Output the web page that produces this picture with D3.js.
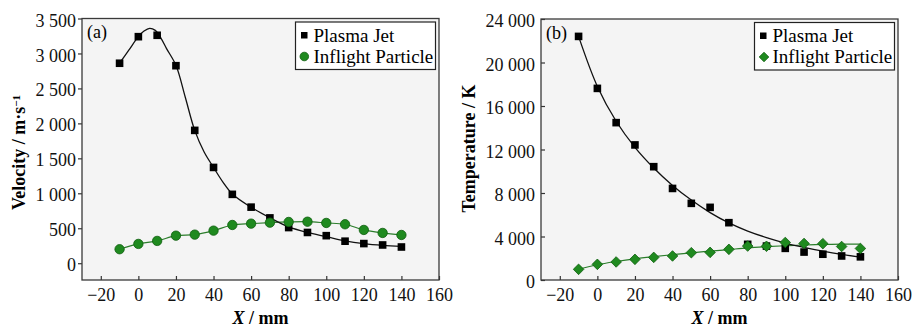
<!DOCTYPE html>
<html>
<head>
<meta charset="utf-8">
<script src="https://cdn.jsdelivr.net/npm/d3@7"></script>
<style>
  body { margin: 0; background: #fff; }
  text { font-family: "Liberation Serif", "Times New Roman", serif; }
</style>
</head>
<body>
<svg id="mainSvg" width="913" height="326"></svg>
<script>
// measured positions along the jet axis (mm)
var xPos = [-10, 0, 10, 20, 30, 40, 50, 60, 70, 80, 90, 100, 110, 120, 130, 140];

// (a) velocity, m/s
var velJet      = [2860, 3240, 3260, 2825, 1900, 1370, 985, 802, 648, 510, 440, 394, 315, 281, 261, 232];
var velParticle = [200, 276, 319, 394, 409, 466, 547, 566, 580, 590, 594, 576, 557, 476, 433, 404];
// fitted curve of the jet velocity
var velFitX   = [-10, -5, 0, 3, 6, 9, 12, 15, 20, 25, 30, 35, 40, 45, 50, 60, 70, 80, 90, 100, 110, 120, 130, 140];
var velFitJet = [2860, 3050, 3240, 3320, 3360, 3330, 3220, 3070, 2830, 2370, 1900, 1590, 1370, 1160, 990, 800, 650, 520, 440, 380, 320, 280, 255, 240];

// (b) temperature, K
var tempJet      = [22400, 17620, 14470, 12420, 10420, 8420, 7050, 6680, 5270, 3280, 3120, 2910, 2570, 2370, 2210, 2130];
var tempParticle = [980, 1440, 1660, 1900, 2080, 2210, 2510, 2540, 2820, 3120, 3100, 3450, 3360, 3340, 3080, 2900];
var tempFitJet      = [22400, 17800, 14600, 12200, 10300, 8700, 7350, 6200, 5250, 4500, 3900, 3400, 3000, 2650, 2350, 2100];
var tempFitParticle = [980, 1400, 1700, 1950, 2150, 2330, 2500, 2650, 2800, 2950, 3060, 3150, 3220, 3270, 3290, 3300];

var xTicks    = [-20, 0, 20, 40, 60, 80, 100, 120, 140, 160];
var velTicks  = [0, 500, 1000, 1500, 2000, 2500, 3000, 3500];
var tempTicks = [0, 4000, 8000, 12000, 16000, 20000, 24000];
var legendLabels = ["Plasma Jet", "Inflight Particle"];

var green = "#1f8a1f", greenDark = "#0f5e0f";
var fmt = function(d) { return d3.format(",")(d).replace(/,/g, " "); };

var svg = d3.select("#mainSvg");

function drawPanel(o) {
  var width = o.right - o.left,
      height = o.bottom - o.top;

  var x = d3.scaleLinear().domain([-30, 160]).range([0, width]);
  var y = d3.scaleLinear().domain(o.yDomain).range([height, 0]);

  var g = svg.append("g").attr("transform", "translate(" + o.left + "," + o.top + ")");

  // plot background
  g.append("rect")
    .attr("width", width).attr("height", height)
    .attr("fill", "#f4f4f4");

  // x axis, ticks pointing in
  var xAxis = g.append("g")
    .attr("transform", "translate(0," + height + ")")
    .call(d3.axisBottom(x).tickValues(xTicks).tickSize(-4).tickPadding(8).tickFormat(d3.format("")));
  xAxis.select(".domain").remove();

  // y axis
  var yAxis = g.append("g")
    .call(d3.axisLeft(y).tickValues(o.yTicks).tickSize(o.yTickSize).tickPadding(o.yTickPad).tickFormat(fmt));
  yAxis.select(".domain").remove();
  yAxis.selectAll("text").attr("dy", "0.42em");

  g.selectAll(".tick line").attr("stroke", "#333").attr("stroke-width", 1.2);
  g.selectAll(".tick text")
    .style("font-family", "'Liberation Serif', serif")
    .style("font-size", "18px")
    .attr("fill", "#111");

  // frame
  g.append("rect")
    .attr("width", width).attr("height", height)
    .attr("fill", "none").attr("stroke", "#3a3a3a").attr("stroke-width", 1.3);

  var line = d3.line()
    .x(function(d) { return x(d[0]); })
    .y(function(d) { return y(d[1]); })
    .curve(d3.curveCatmullRom);

  // particle line
  g.append("path")
    .datum(d3.zip(o.particleFitX, o.particleFit))
    .attr("fill", "none").attr("stroke", "#2b7d2b").attr("stroke-width", 1.2)
    .attr("d", line);

  // jet line
  g.append("path")
    .datum(d3.zip(o.jetFitX, o.jetFit))
    .attr("fill", "none").attr("stroke", "#111").attr("stroke-width", 1.3)
    .attr("d", line);

  // jet squares
  g.selectAll(".jet")
    .data(d3.zip(xPos, o.jet))
    .enter().append("rect")
    .attr("class", "jet")
    .attr("x", function(d) { return x(d[0]) - 3.8; })
    .attr("y", function(d) { return y(d[1]) - 3.8; })
    .attr("width", 7.6).attr("height", 7.6)
    .attr("fill", "#000");

  // particle markers
  var pts = g.selectAll(".particle")
    .data(d3.zip(xPos, o.particle))
    .enter();
  if (o.symbol === "circle") {
    pts.append("circle")
      .attr("class", "particle")
      .attr("cx", function(d) { return x(d[0]); })
      .attr("cy", function(d) { return y(d[1]); })
      .attr("r", 4.7)
      .attr("fill", green).attr("stroke", greenDark).attr("stroke-width", 0.8);
  } else {
    pts.append("path")
      .attr("class", "particle")
      .attr("transform", function(d) { return "translate(" + x(d[0]) + "," + y(d[1]) + ")"; })
      .attr("d", "M0,-5.3L5.3,0L0,5.3L-5.3,0Z")
      .attr("fill", green).attr("stroke", greenDark).attr("stroke-width", 0.8);
  }

  // panel label
  g.append("text")
    .attr("x", 5).attr("y", 19.5)
    .style("font-size", "18px")
    .text(o.label);

  // legend
  var lg = g.append("g").attr("transform", "translate(" + (width - 3.5 - 140) + ",3.5)");
  lg.append("rect")
    .attr("width", 140).attr("height", 47.5)
    .attr("fill", "#fff").attr("stroke", "#222").attr("stroke-width", 1.2);
  lg.append("rect")
    .attr("x", 5.5).attr("y", 10).attr("width", 6.5).attr("height", 6.5)
    .attr("fill", "#000");
  if (o.symbol === "circle") {
    lg.append("circle").attr("cx", 8.8).attr("cy", 34.5).attr("r", 4.3)
      .attr("fill", green).attr("stroke", greenDark).attr("stroke-width", 0.8);
  } else {
    lg.append("path").attr("transform", "translate(9.5,34.5)")
      .attr("d", "M0,-4.8L4.8,0L0,4.8L-4.8,0Z")
      .attr("fill", green).attr("stroke", greenDark).attr("stroke-width", 0.8);
  }
  lg.selectAll(".lgText")
    .data(legendLabels)
    .enter().append("text")
    .attr("class", "lgText")
    .attr("x", 18)
    .attr("y", function(d, i) { return 19.5 + i * 21.3; })
    .style("font-size", "19px")
    .text(function(d) { return d; });

  // x title
  var xt = svg.append("text")
    .attr("x", o.left + width / 2).attr("y", 323.5)
    .attr("text-anchor", "middle")
    .style("font-size", "18px").style("font-weight", "bold");
  xt.append("tspan").style("font-style", "italic").text("X");
  xt.append("tspan").text(" / mm");

  // y title
  var yt = svg.append("text")
    .attr("transform", "translate(" + o.yTitleX + "," + o.yTitleY + ") rotate(-90)")
    .attr("text-anchor", "middle")
    .style("font-size", "18px").style("font-weight", "bold");
  yt.append("tspan").text(o.yTitle);
  if (o.yTitleSup) {
    yt.append("tspan").attr("dy", "-0.45em").style("font-size", "11px").text(o.yTitleSup);
  }
}

drawPanel({
  left: 82, right: 439, top: 18.5, bottom: 280,
  yDomain: [-240, 3500], yTicks: velTicks, yTickSize: 4, yTickPad: 2,
  jet: velJet, jetFitX: velFitX, jetFit: velFitJet,
  particle: velParticle, particleFitX: xPos, particleFit: velParticle,
  symbol: "circle", label: "(a)",
  yTitle: "Velocity / m·s", yTitleSup: "−1", yTitleX: 25, yTitleY: 152.5
});

drawPanel({
  left: 541, right: 898, top: 19, bottom: 280,
  yDomain: [0, 24000], yTicks: tempTicks, yTickSize: -4, yTickPad: 6,
  jet: tempJet, jetFitX: xPos, jetFit: tempFitJet,
  particle: tempParticle, particleFitX: xPos, particleFit: tempFitParticle,
  symbol: "diamond", label: "(b)",
  yTitle: "Temperature / K", yTitleSup: null, yTitleX: 475, yTitleY: 148.5
});
</script>
</body>
</html>
